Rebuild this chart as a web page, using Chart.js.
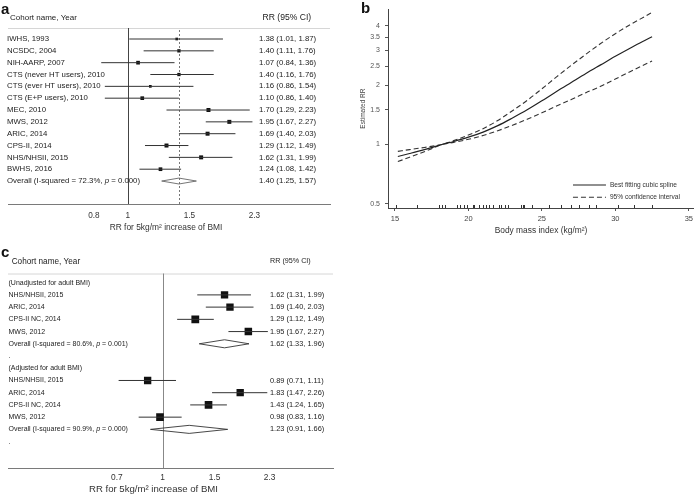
<!DOCTYPE html>
<html>
<head>
<meta charset="utf-8">
<script src="https://cdn.jsdelivr.net/npm/chart.js@4.4.1/dist/chart.umd.min.js"></script>
<style>
  body{margin:0;background:#fff;font-family:"Liberation Sans",Arial,sans-serif;}
  #wrap{position:relative;width:696px;height:496px;overflow:hidden;}
  canvas{position:absolute;}
  .tag{position:absolute;font-weight:bold;font-size:15px;line-height:15px;color:#111;}
</style>
</head>
<body>
<div id="wrap">
  <canvas id="forestA" width="345" height="240" style="left:0;top:0"></canvas>
  <canvas id="spline" width="346" height="240" style="left:350px;top:0"></canvas>
  <canvas id="forestC" width="345" height="256" style="left:0;top:240px"></canvas>
  <div class="tag" style="left:1px;top:1px">a</div>
  <div class="tag" style="left:361px;top:0px">b</div>
  <div class="tag" style="left:1px;top:244px">c</div>
</div>
<script>
const FONT = '"Liberation Sans", Arial, sans-serif';

// ---- panel a : all cohorts
const cohortsA = ['IWHS, 1993', 'NCSDC, 2004', 'NIH-AARP, 2007', 'CTS (never HT users), 2010',
  'CTS (ever HT users), 2010', 'CTS (E+P users), 2010', 'MEC, 2010', 'MWS, 2012', 'ARIC, 2014',
  'CPS-II, 2014', 'NHS/NHSII, 2015', 'BWHS, 2016'];
const rrA = [1.38, 1.40, 1.07, 1.40, 1.16, 1.10, 1.70, 1.95, 1.69, 1.29, 1.62, 1.24];
const loA = [1.01, 1.11, 0.84, 1.16, 0.86, 0.86, 1.29, 1.67, 1.40, 1.12, 1.31, 1.08];
const hiA = [1.87, 1.76, 1.36, 1.76, 1.54, 1.40, 2.23, 2.27, 2.03, 1.49, 1.99, 1.42];
const weightA = [4.6, 6.9, 8.7, 6.9, 4.6, 8.7, 10.2, 10.2, 10.2, 10.2, 10.2, 8.7]; // %, guessed from box size
const overallA = [1.40, 1.25, 1.57];
const hetA = ['72.3%', '0.000'];
const ticksA = [0.8, 1, 1.5, 2.3];

// ---- panel c : with / without adult BMI adjustment
const cohortsC = ['NHS/NHSII, 2015', 'ARIC, 2014', 'CPS-II NC, 2014', 'MWS, 2012'];
const rrUnadj = [1.62, 1.69, 1.29, 1.95];
const loUnadj = [1.31, 1.40, 1.12, 1.67];
const hiUnadj = [1.99, 2.03, 1.49, 2.27];
const weightUnadj = [24, 24, 27, 25];
const overallUnadj = [1.62, 1.33, 1.96];
const hetUnadj = ['80.6%', '0.001'];
const rrAdj = [0.89, 1.83, 1.43, 0.98];
const loAdj = [0.71, 1.47, 1.24, 0.83];
const hiAdj = [1.11, 2.26, 1.65, 1.16];
const weightAdj = [24, 24, 26, 26];
const overallAdj = [1.23, 0.91, 1.66];
const hetAdj = ['90.9%', '0.000'];
const ticksC = [0.7, 1, 1.5, 2.3];

// ---- panel b : dose-response spline
const bmiGrid = [15.2, 16, 17, 18, 18.2, 19, 20, 21, 22, 23, 24, 25, 26, 27, 28, 29, 30, 31, 32, 32.5];
const rrFit   = [0.869, 0.900, 0.942, 0.990, 1.000, 1.036, 1.089, 1.156, 1.246, 1.363, 1.499, 1.665, 1.859, 2.065, 2.293, 2.535, 2.801, 3.080, 3.370, 3.525];
const rrUpper = [0.923, 0.942, 0.966, 0.993, 1.000, 1.046, 1.116, 1.203, 1.323, 1.484, 1.674, 1.916, 2.203, 2.522, 2.872, 3.254, 3.651, 4.055, 4.460, 4.688];
const rrLower = [0.819, 0.861, 0.919, 0.987, 1.000, 1.025, 1.062, 1.111, 1.174, 1.252, 1.343, 1.448, 1.568, 1.690, 1.831, 1.974, 2.149, 2.340, 2.547, 2.651];
const rugBmi = [15.1, 16.5, 18.0, 18.2, 18.4, 19.2, 19.4, 19.7, 19.9, 20.3, 20.4, 20.7, 21.0, 21.2, 21.4, 21.7,
  22.1, 22.2, 22.5, 22.7, 23.6, 23.7, 23.8, 24.3, 25.5, 26.3, 27.0, 27.5, 28.2, 28.7, 30.2, 31.3, 32.5];
const ticksBX = [15, 20, 25, 30, 35];
const ticksBY = [0.5, 1, 1.5, 2, 2.5, 3, 3.5, 4];

Chart.defaults.font.family = FONT;
Chart.defaults.color = '#333';

const fmt = (r, l, h) => r.toFixed(2) + ' (' + l.toFixed(2) + ', ' + h.toFixed(2) + ')';

function studyRows(names, rr, lo, hi, w) {
  return names.map((n, i) => ({kind: 'study', label: n, rr: rr[i], lo: lo[i], hi: hi[i], w: w[i]}));
}
function overallRow(o, het) {
  return {kind: 'overall', rr: o[0], lo: o[1], hi: o[2], het: het};
}

function hline(ctx, x1, y1, x2, y2) {
  ctx.beginPath(); ctx.moveTo(x1, y1); ctx.lineTo(x2, y2); ctx.stroke();
}

function forest(id, rows, o) {
  const cis = [], boxes = [], radii = [], diamonds = [];
  rows.forEach((r, i) => {
    if (r.kind === 'study') {
      cis.push({x: r.lo, y: i}, {x: r.hi, y: i}, {x: NaN, y: NaN});
      boxes.push({x: r.rr, y: i});
      // box area ~ weight ; rect side = radius*sqrt2
      radii.push(o.boxK * Math.sqrt(r.w) / Math.SQRT2);
    } else if (r.kind === 'overall') {
      const h = o.diamondH;
      diamonds.push({x: r.lo, y: i}, {x: r.rr, y: i - h}, {x: r.hi, y: i}, {x: r.rr, y: i + h},
        {x: r.lo, y: i}, {x: NaN, y: NaN});
    }
  });

  const deco = {
    id: 'deco',
    beforeDatasetsDraw(chart) {
      const {ctx, chartArea: a, scales: {x}} = chart;
      ctx.save();
      ctx.lineWidth = 1;
      ctx.strokeStyle = '#d6d6d6';
      hline(ctx, a.left, a.top + 0.5, a.right, a.top + 0.5);
      const x1 = Math.round(x.getPixelForValue(1)) + 0.5;
      ctx.strokeStyle = o.nullColor;
      hline(ctx, x1, a.top, x1, a.bottom);
      if (o.pooled) {
        const xp = Math.round(x.getPixelForValue(o.pooled)) + 0.5;
        ctx.strokeStyle = '#777';
        ctx.setLineDash([2, 2]);
        hline(ctx, xp, a.top + 2, xp, a.bottom);
      }
      ctx.restore();
    },
    afterDatasetsDraw(chart) {
      const {ctx, chartArea: a, scales: {y}} = chart;
      ctx.save();
      ctx.fillStyle = '#222';
      ctx.textBaseline = 'middle';
      ctx.textAlign = 'left';
      ctx.font = o.headSize + 'px ' + FONT;
      ctx.fillText('Cohort name, Year', o.headX, a.top - o.headGap);
      ctx.font = o.headRRSize + 'px ' + FONT;
      ctx.fillText('RR (95% CI)', o.headRRX, a.top - o.headGap);
      rows.forEach((r, i) => {
        const py = y.getPixelForValue(i);
        ctx.font = o.txtSize + 'px ' + FONT;
        if (r.kind === 'overall') {
          let px = o.labelX;
          [['Overall (I-squared = ' + r.het[0] + ', ', ''], ['p', 'italic '], [' = ' + r.het[1] + ')', '']]
            .forEach(([t, st]) => {
              ctx.font = st + o.txtSize + 'px ' + FONT;
              ctx.fillText(t, px, py);
              px += ctx.measureText(t).width;
            });
        } else {
          ctx.fillText(r.label, o.labelX, py);
        }
        if (r.rr !== undefined) {
          ctx.font = o.rrSize + 'px ' + FONT;
          ctx.fillText(fmt(r.rr, r.lo, r.hi), o.rrX, py);
        }
      });
      ctx.textAlign = 'center';
      ctx.fillStyle = '#333';
      ctx.font = o.titleSize + 'px ' + FONT;
      ctx.fillText('RR for 5kg/m² increase of BMI', o.titleX, a.bottom + o.titleDy);
      ctx.restore();
    }
  };

  return new Chart(document.getElementById(id), {
    type: 'scatter',
    data: {
      datasets: [
        {type: 'line', data: cis, borderColor: '#333', borderWidth: 1, pointRadius: 0, spanGaps: false},
        {type: 'line', data: diamonds, borderColor: o.diamondColor, borderWidth: 0.9, pointRadius: 0, spanGaps: false},
        {data: boxes, pointStyle: 'rect', pointRadius: radii, backgroundColor: '#111', borderWidth: 0}
      ]
    },
    options: {
      responsive: false,
      animation: false,
      events: [],
      layout: {padding: o.pad},
      plugins: {legend: {display: false}, tooltip: {enabled: false}},
      scales: {
        x: {
          type: 'logarithmic', min: o.xmin, max: o.xmax,
          afterBuildTicks: s => { s.ticks = o.ticks.map(v => ({value: v})); },
          afterFit: s => { s.height = o.axisH; },
          grid: {display: false, drawTicks: false},
          border: {color: '#7a7a7a', width: 1},
          ticks: {callback: v => String(v), color: '#333', font: {size: o.tickSize},
            padding: o.tickPad, maxRotation: 0, autoSkip: false}
        },
        y: {type: 'linear', display: false, reverse: true, min: o.ymin, max: o.ymax}
      }
    },
    plugins: [deco]
  });
}

// panel a
const rowsA = studyRows(cohortsA, rrA, loA, hiA, weightA).concat([overallRow(overallA, hetA)]);
forest('forestA', rowsA, {
  pad: {left: 8, right: 15, top: 28, bottom: 0}, axisH: 36,
  xmin: 0.455, xmax: 3.78, ymin: -0.93, ymax: 13.94, ticks: ticksA,
  tickSize: 8.2, tickPad: 7, titleSize: 8.4, titleX: 166, titleDy: 24,
  labelX: 7, rrX: 259, txtSize: 7.8, rrSize: 7.8,
  headX: 10, headRRX: 262.5, headGap: 10, headSize: 8, headRRSize: 8.6,
  boxK: 1.25, diamondH: 0.25, diamondColor: '#666', nullColor: '#444', pooled: overallA[0]
});

// panel c
const rowsC = [{kind: 'text', label: '(Unadjusted for adult BMI)'}]
  .concat(studyRows(cohortsC, rrUnadj, loUnadj, hiUnadj, weightUnadj))
  .concat([overallRow(overallUnadj, hetUnadj), {kind: 'text', label: '.'},
    {kind: 'text', label: '(Adjusted for adult BMI)'}])
  .concat(studyRows(cohortsC, rrAdj, loAdj, hiAdj, weightAdj))
  .concat([overallRow(overallAdj, hetAdj), {kind: 'text', label: '.'}]);
forest('forestC', rowsC, {
  pad: {left: 8, right: 12, top: 33.5, bottom: 0}, axisH: 28,
  xmin: 0.345, xmax: 3.77, ymin: -0.75, ymax: 15.16, ticks: ticksC,
  tickSize: 8.4, tickPad: 5, titleSize: 9.6, titleX: 153.5, titleDy: 21,
  labelX: 8.5, rrX: 270, txtSize: 7, rrSize: 7.4,
  headX: 11.7, headRRX: 270, headGap: 12, headSize: 8.2, headRRSize: 7.2,
  boxK: 1.5, diamondH: 0.33, diamondColor: '#333', nullColor: '#888', pooled: null
});

// panel b
const rugLegend = {
  id: 'rugLegend',
  afterDatasetsDraw(chart) {
    const {ctx, chartArea: a, scales: {x}} = chart;
    ctx.save();
    ctx.strokeStyle = '#333';
    ctx.lineWidth = 1;
    rugBmi.forEach(b => {
      const px = Math.round(x.getPixelForValue(b)) + 0.5;
      hline(ctx, px, a.bottom - 3, px, a.bottom);
    });
    // legend, bottom right inside the plot
    const ds = chart.data.datasets;
    [ds[0], ds[1]].forEach((d, i) => {
      const yy = a.bottom - 23 + i * 12.3;
      ctx.strokeStyle = d.borderColor;
      ctx.lineWidth = d.borderWidth;
      ctx.setLineDash(d.borderDash || []);
      hline(ctx, a.right - 121, yy, a.right - 88, yy);
      ctx.setLineDash([]);
      ctx.fillStyle = '#333';
      ctx.font = '6.6px ' + FONT;
      ctx.textBaseline = 'middle';
      ctx.fillText(d.label, a.right - 84, yy);
    });
    ctx.restore();
  }
};

const curve = arr => bmiGrid.map((b, i) => ({x: b, y: arr[i]}));

new Chart(document.getElementById('spline'), {
  type: 'line',
  data: {
    datasets: [
      {label: 'Best fitting cubic spline', data: curve(rrFit), borderColor: '#222', borderWidth: 1.2,
        pointRadius: 0, cubicInterpolationMode: 'monotone'},
      {label: '95% confidence interval', data: curve(rrUpper), borderColor: '#333', borderWidth: 1.1,
        borderDash: [5, 3], pointRadius: 0, cubicInterpolationMode: 'monotone'},
      {label: '95% confidence interval', data: curve(rrLower), borderColor: '#333', borderWidth: 1.1,
        borderDash: [5, 3], pointRadius: 0, cubicInterpolationMode: 'monotone'}
    ]
  },
  options: {
    responsive: false,
    animation: false,
    events: [],
    layout: {padding: {left: 0, right: 1, top: 7, bottom: 0}},
    plugins: {legend: {display: false}, tooltip: {enabled: false}},
    scales: {
      x: {
        type: 'linear', min: 14.53, max: 35.35,
        afterBuildTicks: s => { s.ticks = ticksBX.map(v => ({value: v})); },
        afterFit: s => { s.height = 32; },
        grid: {drawOnChartArea: false, tickLength: 3, color: '#555'},
        border: {color: '#444', width: 1},
        ticks: {color: '#444', font: {size: 7.5}, padding: 3, maxRotation: 0, autoSkip: false},
        title: {display: true, text: 'Body mass index (kg/m²)', color: '#333', font: {size: 8.4},
          padding: {top: 0, bottom: 4}}
      },
      y: {
        type: 'logarithmic', min: 0.476, max: 4.86,
        afterBuildTicks: s => { s.ticks = ticksBY.map(v => ({value: v})); },
        afterFit: s => { s.width = 38; },
        grid: {drawOnChartArea: false, tickLength: 3, color: '#555'},
        border: {color: '#444', width: 1},
        ticks: {callback: v => String(v), color: '#555', font: {size: 7}, padding: 5, autoSkip: false},
        title: {display: true, text: 'Estimated RR', color: '#444', font: {size: 6.5},
          padding: {top: 9, bottom: 0}}
      }
    }
  },
  plugins: [rugLegend]
});
</script>
</body>
</html>
